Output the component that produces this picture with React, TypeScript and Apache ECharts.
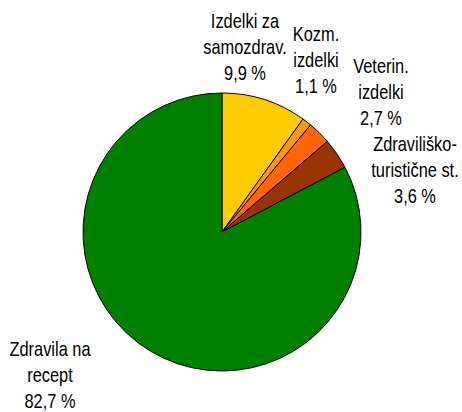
import React, { useEffect, useRef } from "react";
import * as echarts from "echarts";

const categories = [
  "Izdelki za\nsamozdrav.",
  "Kozm.\nizdelki",
  "Veterin.\nizdelki",
  "Zdraviliško-\nturistične st.",
  "Zdravila na\nrecept",
];
const shares = [9.9, 1.1, 2.7, 3.6, 82.7];
const colors = ["#FFCC00", "#FF9900", "#FF6600", "#993300", "#008000"];
// label block centres (layout only)
const labelPos: [number, number][] = [
  [245, 47],
  [316, 60],
  [381, 92],
  [415, 170],
  [50, 375],
];

const fmt = (v: number) => `${v.toFixed(1).replace(".", ",")} %`;

export default function App() {
  const ref = useRef<HTMLDivElement>(null);
  useEffect(() => {
    document.body.style.margin = "0";
    const chart = echarts.init(ref.current!, null, { renderer: "svg" });
    chart.setOption({
      animation: false,
      backgroundColor: "#ffffff",
      graphic: categories.map((name, i) => ({
        type: "text",
        x: labelPos[i][0],
        y: labelPos[i][1],
        scaleX: 0.82,
        z: 10,
        style: {
          text: `${name}\n${fmt(shares[i])}`,
          fontFamily: "'Liberation Sans', Arial, sans-serif",
          fontSize: 20,
          lineHeight: 26,
          fill: "#000000",
          textAlign: "center",
          textVerticalAlign: "middle",
        },
      })),
      series: [
        {
          type: "pie",
          center: [222, 232],
          radius: [0, 139],
          startAngle: 90,
          clockwise: true,
          avoidLabelOverlap: false,
          itemStyle: { borderColor: "#000000", borderWidth: 1 },
          emphasis: { disabled: true },
          label: { show: false },
          labelLine: { show: false },
          data: categories.map((name, i) => ({
            name,
            value: shares[i],
            itemStyle: { color: colors[i] },
          })),
        },
      ],
    });
    return () => chart.dispose();
  }, []);
  return <div ref={ref} style={{ width: 462, height: 412 }} />;
}
